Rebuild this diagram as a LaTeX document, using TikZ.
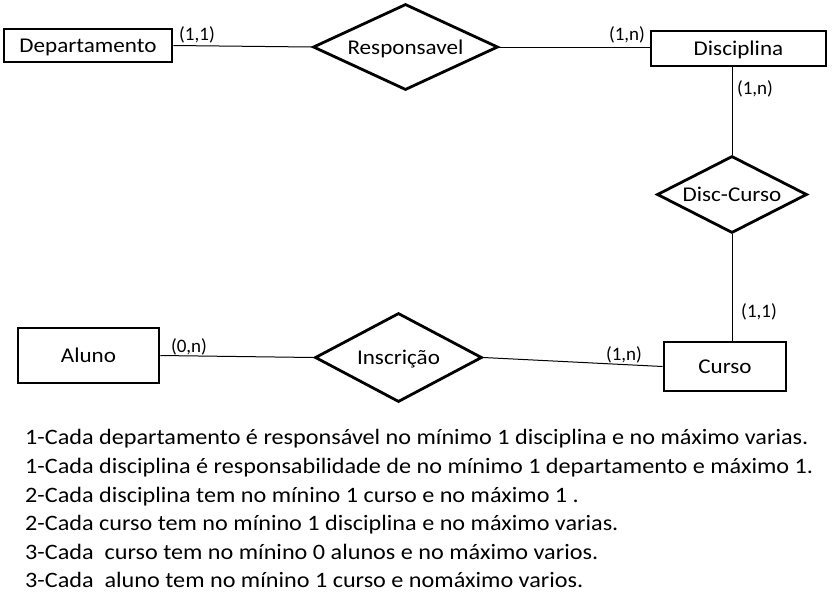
\documentclass[tikz,border=0pt]{standalone}
\usepackage{fontspec}
\setmainfont{Carlito}
\newfontfamily\widefont[FakeStretch=1.1]{Carlito}
\usetikzlibrary{shapes.geometric}
\begin{document}
\begin{tikzpicture}[x=1pt,y=-1pt,
  ent/.style={draw,line width=2.8pt,rectangle,inner sep=0pt,text height=14pt,text depth=0pt,font=\widefont\fontsize{21}{24}\selectfont},
  rel/.style={draw,line width=2.8pt,diamond,aspect=2,inner sep=0pt,text height=14pt,text depth=0pt,font=\widefont\fontsize{21}{24}\selectfont},
  conn/.style={line width=1pt},
  card/.style={inner sep=0pt,font=\fontsize{19}{22}\selectfont},
  note/.style={anchor=base west,inner sep=0pt,font=\widefont\fontsize{22}{24}\selectfont}]
\useasboundingbox (0,0) rectangle (832,595);
\fill[white] (0,0) rectangle (832,595);
% entities
\node[ent,minimum width=168pt,minimum height=33pt] (dep) at (88,45.5) {Departamento};
\node[ent,minimum width=175pt,minimum height=35pt] (dis) at (738.5,48.5) {Disciplina};
\node[ent,minimum width=141pt,minimum height=55pt] (alu) at (88.5,355.5) {Aluno};
\node[ent,minimum width=122pt,minimum height=49pt] (cur) at (725,366.5) {Curso};
% relationships
\node[rel,minimum width=185pt,minimum height=86pt] (resp) at (405.5,47) {Responsavel};
\node[rel,minimum width=150pt,minimum height=77pt] (dc) at (732,194.5) {Disc-Curso};
\node[rel,minimum width=167pt,minimum height=89pt] (ins) at (398.5,357.5) {Inscrição};
% connectors
\draw[conn] (dep.east) -- (resp.west);
\draw[conn] (resp.east) -- (resp.east -| dis.west);
\draw[conn] (dis.south -| dc.north) -- (dc.north);
\draw[conn] (dc.south) -- (dc.south |- cur.north);
\draw[conn] (alu.east) -- (ins.west);
\draw[conn] (ins.east) -- (cur.west);
% cardinalities
\node[card] (c1) at (197,35) {(1,1)};
\node[card] (c2) at (627,35) {(1,n)};
\node[card] (c3) at (755,89) {(1,n)};
\node[card] (c4) at (759,312) {(1,1)};
\node[card] (c5) at (189,347) {(0,n)};
\node[card] (c6) at (624,355) {(1,n)};
% notes
\node[note] (n1) at (25,444) {1-Cada departamento é responsável no mínimo 1 disciplina e no máximo varias.};
\node[note] (n2) at (25,473) {1-Cada disciplina é responsabilidade de no mínimo 1 departamento e máximo 1.};
\node[note] (n3) at (25,502) {2-Cada disciplina tem no mínino 1 curso e no máximo 1 .};
\node[note] (n4) at (25,530) {2-Cada curso tem no mínino 1 disciplina e no máximo varias.};
\node[note] (n5) at (25,559) {3-Cada\ \ curso tem no mínino 0 alunos e no máximo varios.};
\node[note] (n6) at (25,587) {3-Cada\ \ aluno tem no mínino 1 curso e nomáximo varios.};
\end{tikzpicture}
\end{document}
